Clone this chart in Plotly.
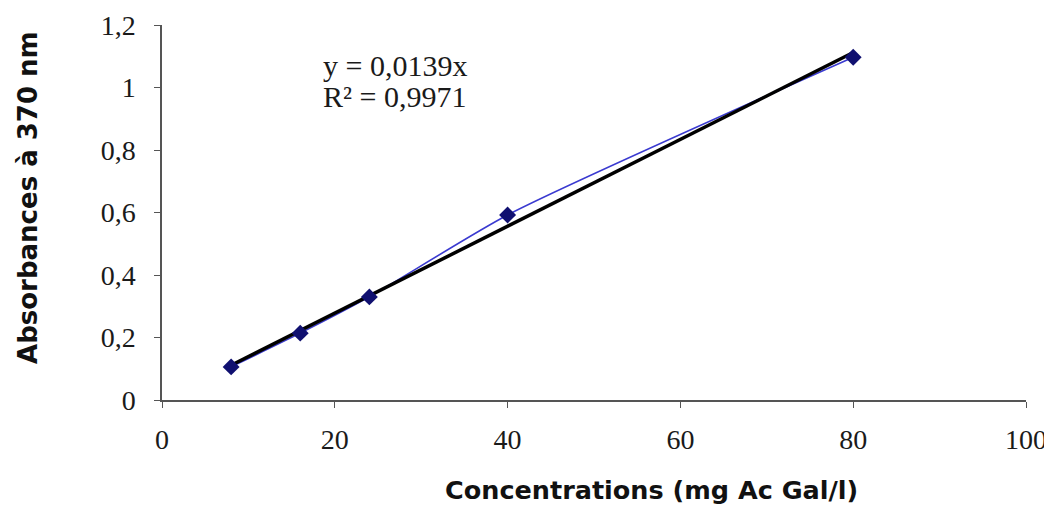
import plotly.graph_objects as go

conc = [8, 16, 24, 40, 80]
absorb = [0.106, 0.214, 0.33, 0.592, 1.097]
slope = 0.0139
trend_x = [8, 80]
trend_y = [slope * x for x in trend_x]
x_ticks = [0, 20, 40, 60, 80, 100]
y_ticks = [0, 0.2, 0.4, 0.6, 0.8, 1.0, 1.2]
eq_text = "y = 0,0139x"
r2_text = "R² = 0,9971"
x_title = "<b>Concentrations (mg Ac Gal/l)</b>"
y_title = "<b>Absorbances à 370 nm</b>"

fig = go.Figure()
fig.add_trace(go.Scatter(x=conc, y=absorb, mode="lines",
                         line=dict(color="#3a3ad0", width=1.6, shape="spline", smoothing=0.6),
                         showlegend=False))
fig.add_trace(go.Scatter(x=trend_x, y=trend_y, mode="lines",
                         line=dict(color="black", width=3.5), showlegend=False))
fig.add_trace(go.Scatter(x=conc, y=absorb, mode="markers",
                         marker=dict(symbol="diamond", size=13, color="#101070"),
                         showlegend=False))

ann_font = dict(family="Liberation Serif", size=30, color="#1a1a1a")
fig.add_annotation(x=0.184, y=0.893, xref="paper", yref="paper", showarrow=False,
                   xanchor="left", yanchor="middle", text=eq_text, font=ann_font)
fig.add_annotation(x=0.184, y=0.808, xref="paper", yref="paper", showarrow=False,
                   xanchor="left", yanchor="middle", text=r2_text, font=ann_font)

title_font = dict(family="DejaVu Sans", color="#111")
fig.add_annotation(x=0.567, y=-0.241, xref="paper", yref="paper", showarrow=False,
                   xanchor="center", yanchor="middle", text=x_title,
                   font=dict(size=25.5, **title_font))
fig.add_annotation(x=-0.155, y=0.539, xref="paper", yref="paper", showarrow=False,
                   xanchor="center", yanchor="middle", textangle=-90, text=y_title,
                   font=dict(size=26, **title_font))

fig.update_layout(
    width=1044, height=499,
    margin=dict(l=154, r=26, t=17, b=107),
    paper_bgcolor="white", plot_bgcolor="white",
    separators=", ",
    font=dict(family="Liberation Serif", size=28, color="#1a1a1a"),
    xaxis=dict(range=[0, 100], tickvals=x_ticks, showgrid=False, zeroline=False,
               showline=True, linecolor="#555", linewidth=1.5, automargin=False,
               ticks="outside", ticklen=6, tickcolor="#555", ticklabelstandoff=8),
    yaxis=dict(range=[0, 1.2], tickvals=y_ticks, tickformat=".1~f", showgrid=False, zeroline=False,
               showline=True, linecolor="#555", linewidth=1.5, automargin=False,
               ticks="outside", ticklen=6, tickcolor="#555", ticklabelstandoff=13),
)
fig.write_html("out.html")
